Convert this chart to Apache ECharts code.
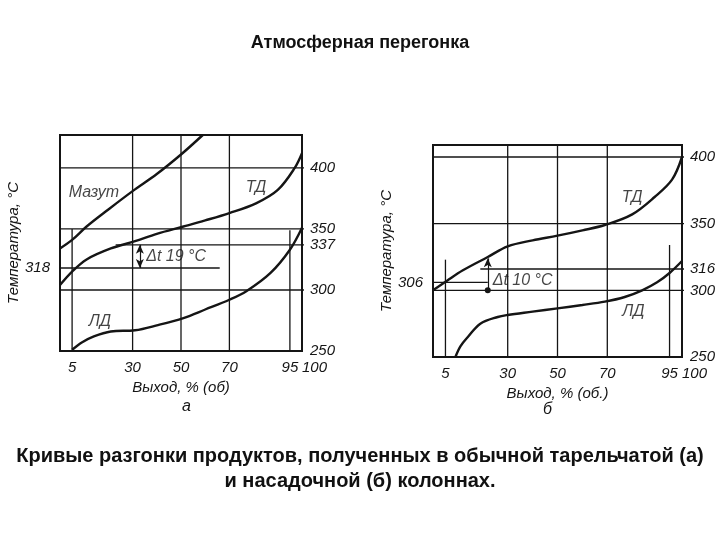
<!DOCTYPE html>
<html><head><meta charset="utf-8">
<script src="https://cdn.jsdelivr.net/npm/echarts@6/dist/echarts.min.js"></script>
<style>html,body{margin:0;padding:0;background:#fff}#c{width:720px;height:540px}</style>
</head><body><div id="c"></div>
<script>
// ---- data ----
const xTicks = [5, 30, 50, 70, 95, 100];
const yTicksRightA = [250, 300, 337, 350, 400];
const yTicksLeftA = [318];
const yTicksRightB = [250, 300, 316, 350, 400];
const yTicksLeftB = [306];

// panel a curves [yield %, temperature °C]
const mazutA = [[0,334],[5,341],[11,352],[20,366],[30,381],[40,395],[50,411],[59,427]];
const tdA = [[0,304],[5,315],[11,325],[21,334],[31,340],[40,346],[51,352],[60,357],[70,363],[81,371],[90,382],[97,400],[100,412]];
const ldA = [[5,251],[9,257],[14,262],[21,266],[31,267],[40,271],[51,277],[60,284],[70,292],[77,299],[87,314],[95,333],[100,351]];
// panel b curves
const tdB = [[0,300],[5.5,307],[12,315],[22,325],[30,333],[40,337.5],[50,341],[60,345],[69,349],[80,357],[89,370],[96,383],[100,400]];
const ldB = [[9,250],[11,258],[14,265],[19,275],[26,280],[30,281.5],[40,284],[50,286.5],[60,289],[69,291.5],[77,295],[84,300],[90,306],[95,313],[100,322]];

// reference lines: horizontal [temp, xFrom, xTo], vertical [x, tFrom, tTo]
const hLinesA = [[400,0,103],[350,0,103],[337,23,103],[318,-3,66],[300,0,103]];
const vLinesA = [[5,250,350],[30,250,427],[50,250,427],[70,250,427],[95,250,349]];
const hLinesB = [[400,0,102],[350,0,102],[316,19,102],[306,-2,22],[300,0,102]];
const vLinesB = [[5,250,323],[30,250,409],[50,250,409],[70,250,409],[95,250,334]];

// annotations [x, temp, text]
const notesA = [[14,379.5,'Мазут'],[81,384,'ТД'],[16.5,274,'ЛД'],[48,327.5,'Δt 19 °C']];
const notesB = [[80,369.5,'ТД'],[80.5,284,'ЛД'],[36,307.5,'Δt 10 °C']];
const arrowA = [[33,337],[33,318]];
const arrowB = [[22,300],[22,324]];

// ---- chart ----
const ink = '#151515';
const font = 'Liberation Sans';
const lbl = {fontFamily: font, fontStyle: 'italic', fontSize: 15, color: ink};

function xAxis(gi, name) {
  return {type:'value', gridIndex:gi, min:0, max:100,
    axisLine:{show:false}, axisTick:{show:false}, splitLine:{show:false},
    axisLabel:Object.assign({customValues:xTicks, margin:9, showMaxLabel:true, showMinLabel:true,
      hideOverlap:false, alignMaxLabel:'left'}, lbl),
    name:name, nameLocation:'middle', nameGap:29, nameTextStyle:lbl};
}
function yAxis(gi, max, pos, ticks, name, margin) {
  const a = {type:'value', gridIndex:gi, min:250, max:max, position:pos,
    axisLine:{show:false}, axisTick:{show:false}, splitLine:{show:false},
    axisLabel:Object.assign({customValues:ticks, margin:margin, showMinLabel:true, showMaxLabel:true}, lbl)};
  if (name) Object.assign(a, {name:name, nameLocation:'middle', nameGap:32, nameRotate:90, nameTextStyle:lbl});
  return a;
}
function refSeries(gi, hl, vl) {
  const out = [];
  hl.forEach(h => out.push({type:'line', xAxisIndex:gi, yAxisIndex:gi*2, data:[[h[1],h[0]],[h[2],h[0]]],
    symbol:'none', clip:false, silent:true, lineStyle:{color:ink, width:1.3}, z:1}));
  vl.forEach(v => out.push({type:'line', xAxisIndex:gi, yAxisIndex:gi*2, data:[[v[0],v[1]],[v[0],v[2]]],
    symbol:'none', clip:false, silent:true, lineStyle:{color:ink, width:1.3}, z:1}));
  return out;
}
function curve(gi, data) {
  return {type:'line', xAxisIndex:gi, yAxisIndex:gi*2, data:data, smooth:0.35, symbol:'none',
    lineStyle:{color:ink, width:2.4}, z:3};
}
function notes(gi, arr) {
  return {type:'scatter', xAxisIndex:gi, yAxisIndex:gi*2, symbolSize:0, silent:true, z:4,
    data:arr.map(n => ({value:[n[0],n[1]], name:n[2]})),
    label:Object.assign({show:true, position:'inside', formatter:p => p.name}, lbl, {fontSize:16})};
}
function arrow(gi, pts, syms) {
  return {type:'line', xAxisIndex:gi, yAxisIndex:gi*2, data:[], silent:true,
    markLine:{silent:true, symbol:syms, symbolSize:[6,9], label:{show:false},
      lineStyle:{color:ink, width:1.2, type:'solid'},
      data:[[{coord:pts[0]},{coord:pts[1]}]]}};
}

const chart = echarts.init(document.getElementById('c'));
chart.setOption({
  backgroundColor:'#fff',
  animation:false,
  title:[
    {text:'Атмосферная перегонка', left:'center', top:29,
      textStyle:{fontFamily:font, fontSize:18, fontWeight:'bold', color:'#111'}},
    {text:'Кривые разгонки продуктов, полученных в обычной тарельчатой (а)', left:'center', top:441,
      textStyle:{fontFamily:font, fontSize:20, fontWeight:'bold', color:'#111'}},
    {text:'и насадочной (б) колоннах.', left:'center', top:466,
      textStyle:{fontFamily:font, fontSize:20, fontWeight:'bold', color:'#111'}},
  ],
  graphic:[
    {type:'text', left:182, top:399, style:{text:'а', font:'italic 16px "Liberation Sans"', fill:ink}},
    {type:'text', left:543, top:402, style:{text:'б', font:'italic 16px "Liberation Sans"', fill:ink}},
  ],
  grid:[
    {left:60, top:135, width:242, height:216, show:true, borderColor:ink, borderWidth:2, backgroundColor:'transparent'},
    {left:433, top:145, width:249, height:212, show:true, borderColor:ink, borderWidth:2, backgroundColor:'transparent'},
  ],
  xAxis:[xAxis(0,'Выход, % (об)'), xAxis(1,'Выход, % (об.)')],
  yAxis:[
    yAxis(0,427,'left',yTicksLeftA,'Температура, °С',10),
    yAxis(0,427,'right',yTicksRightA,null,8),
    yAxis(1,409,'left',yTicksLeftB,'Температура, °С',10),
    yAxis(1,409,'right',yTicksRightB,null,8),
  ],
  series:[].concat(
    refSeries(0,hLinesA,vLinesA),
    refSeries(1,hLinesB,vLinesB),
    [curve(0,mazutA), curve(0,tdA), curve(0,ldA), curve(1,tdB), curve(1,ldB),
     notes(0,notesA), notes(1,notesB),
     arrow(0,arrowA,['arrow','arrow']), arrow(1,arrowB,['circle','arrow'])]
  )
});
</script></body></html>
